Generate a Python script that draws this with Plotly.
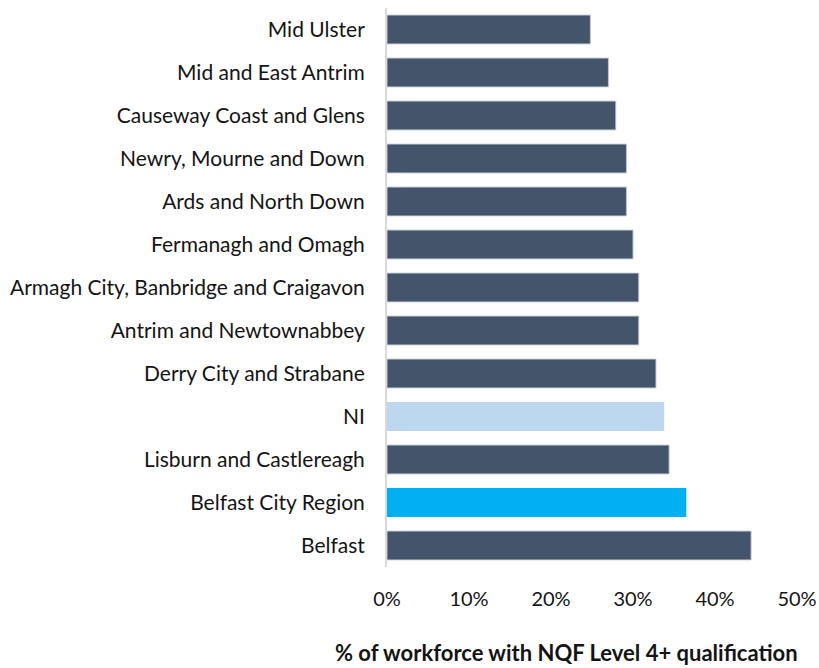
import plotly.graph_objects as go

# Share of workforce holding NQF Level 4+ qualifications, by area (top to bottom)
areas = [
    "Mid Ulster",
    "Mid and East Antrim",
    "Causeway Coast and Glens",
    "Newry, Mourne and Down",
    "Ards and North Down",
    "Fermanagh and Omagh",
    "Armagh City, Banbridge and Craigavon",
    "Antrim and Newtownabbey",
    "Derry City and Strabane",
    "NI",
    "Lisburn and Castlereagh",
    "Belfast City Region",
    "Belfast",
]
share = [0.248, 0.270, 0.279, 0.292, 0.292, 0.300, 0.307, 0.307, 0.328, 0.338, 0.344, 0.365, 0.444]

tick_vals = [0, 0.1, 0.2, 0.3, 0.4, 0.5]
tick_text = ["0%", "10%", "20%", "30%", "40%", "50%"]

DARK = "#44546a"
highlight = {"NI": "#bdd7ee", "Belfast City Region": "#00b0f0"}
colors = [highlight.get(a, DARK) for a in areas]
edge = ["rgba(0,0,0,0)" if a in highlight else "rgba(190,198,210,0.9)" for a in areas]

font_family = "Lato, 'Open Sans', sans-serif"
TEXT = "#141414"

fig = go.Figure(
    go.Bar(
        x=share,
        y=areas,
        orientation="h",
        marker=dict(color=colors, line=dict(color=edge, width=1)),
        hoverinfo="skip",
    )
)

fig.update_layout(
    width=819,
    height=668,
    margin=dict(l=387, r=22, t=8, b=101),
    paper_bgcolor="white",
    plot_bgcolor="white",
    bargap=0.33,
    showlegend=False,
    font=dict(family=font_family, size=20, color=TEXT),
)

fig.update_xaxes(
    range=[0, 0.5],
    tickvals=tick_vals,
    ticktext=tick_text,
    showgrid=False,
    zeroline=False,
    showline=False,
    ticks="",
    ticklabelstandoff=18,
    tickfont=dict(size=20, color=TEXT),
    automargin=False,
    fixedrange=True,
)

fig.update_yaxes(
    categoryorder="array",
    categoryarray=areas[::-1],
    showgrid=False,
    showline=True,
    linecolor="#d9d9d9",
    linewidth=2,
    ticks="",
    ticklabelstandoff=16,
    tickfont=dict(size=21, color=TEXT),
    automargin=False,
    fixedrange=True,
)

fig.add_annotation(
    text="<b>% of workforce with NQF Level 4+ qualification</b>",
    xref="paper",
    yref="paper",
    x=(566 - 387) / 410,
    y=-(668 - 567) / 559,
    xanchor="center",
    yanchor="bottom",
    showarrow=False,
    font=dict(family=font_family, size=22, color=TEXT),
)

fig.write_html("out.html")
